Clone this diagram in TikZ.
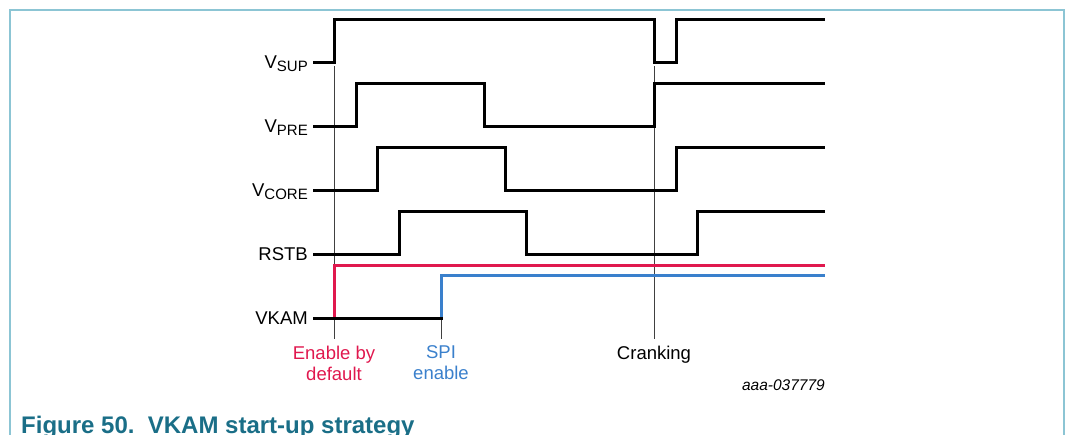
\documentclass[tikz,border=0pt]{standalone}
\usepackage{fontspec}
\setmainfont{Liberation Sans}
\usetikzlibrary{positioning}
\definecolor{vkamRed}{HTML}{E0184E}
\definecolor{vkamBlue}{HTML}{3A80CC}
\definecolor{vkamTeal}{HTML}{1A6E87}
\definecolor{vkamFrame}{HTML}{8CC5D4}
\newcommand{\vsub}[1]{\raisebox{-3pt}{\fontsize{15}{15}\selectfont #1}}

\begin{document}
\begin{tikzpicture}[x=1pt,y=-1pt,
    font=\fontsize{18.5}{21}\selectfont,
    wave/.style={line width=3pt,line join=miter},
    sig/.style={anchor=base east,inner sep=0pt},
    marker/.style={line width=0.8pt,black!75},
    note/.style={anchor=north,inner sep=0pt,align=center}]
  \useasboundingbox (0,0) rectangle (1066,434);
  \draw[vkamFrame,line width=1.2pt] (10,10) rectangle (1064,470);

  % signal names
  \node[sig] (sup)  at (308,68)  {V\vsub{SUP}};
  \node[sig] (pre)  at (308,132) {V\vsub{PRE}};
  \node[sig] (core) at (308,196) {V\vsub{CORE}};
  \node[sig] (rstb) at (308,260) {RSTB};
  \node[sig] (vkam) at (308,324) {VKAM};

  % event labels
  \node[note,text=vkamRed]  (enLbl)  at (334,345.5) {Enable by\\default};
  \node[note,text=vkamBlue] (spiLbl) at (441,345.5) {SPI\\enable};
  \node[note]               (crLbl)  at (654,345.5) {Cranking};
  \node[anchor=base east,inner sep=0pt,font=\fontsize{15.5}{16}\selectfont\itshape]
    (ref) at (825,390) {aaa-037779};

  % event markers
  \coordinate (enTop)  at (334,66);
  \coordinate (spiTop) at (441,320);
  \coordinate (crTop)  at (654,66);
  \draw[marker] (enTop)  -- ([yshift=6.5pt]enLbl.north);
  \draw[marker] (spiTop) -- ([yshift=6.5pt]spiLbl.north);
  \draw[marker] (crTop)  -- ([yshift=6.5pt]crLbl.north);

  % waveforms
  \draw[wave] (313,62)  -| (334,19)  -| (654,62)  -| (676,19)  -- (825,19);
  \draw[wave] (313,126) -| (356,83)  -| (484,126) -| (654,83)  -- (825,83);
  \draw[wave] (313,190) -| (377,147) -| (505,190) -| (676,147) -- (825,147);
  \draw[wave] (313,254) -| (399,211) -| (526,254) -| (697,211) -- (825,211);
  \draw[wave,vkamRed]  (334,318) |- (825,265);
  \draw[wave,vkamBlue] (441,318) |- (825,275);
  \draw[wave] (313,318) -- (442.5,318);

  \node[anchor=base west,inner sep=0pt,text=vkamTeal,
        font=\fontsize{24}{24}\selectfont\bfseries]
    (title) at (21,433) {Figure 50.~~VKAM start-up strategy};
\end{tikzpicture}
\end{document}
